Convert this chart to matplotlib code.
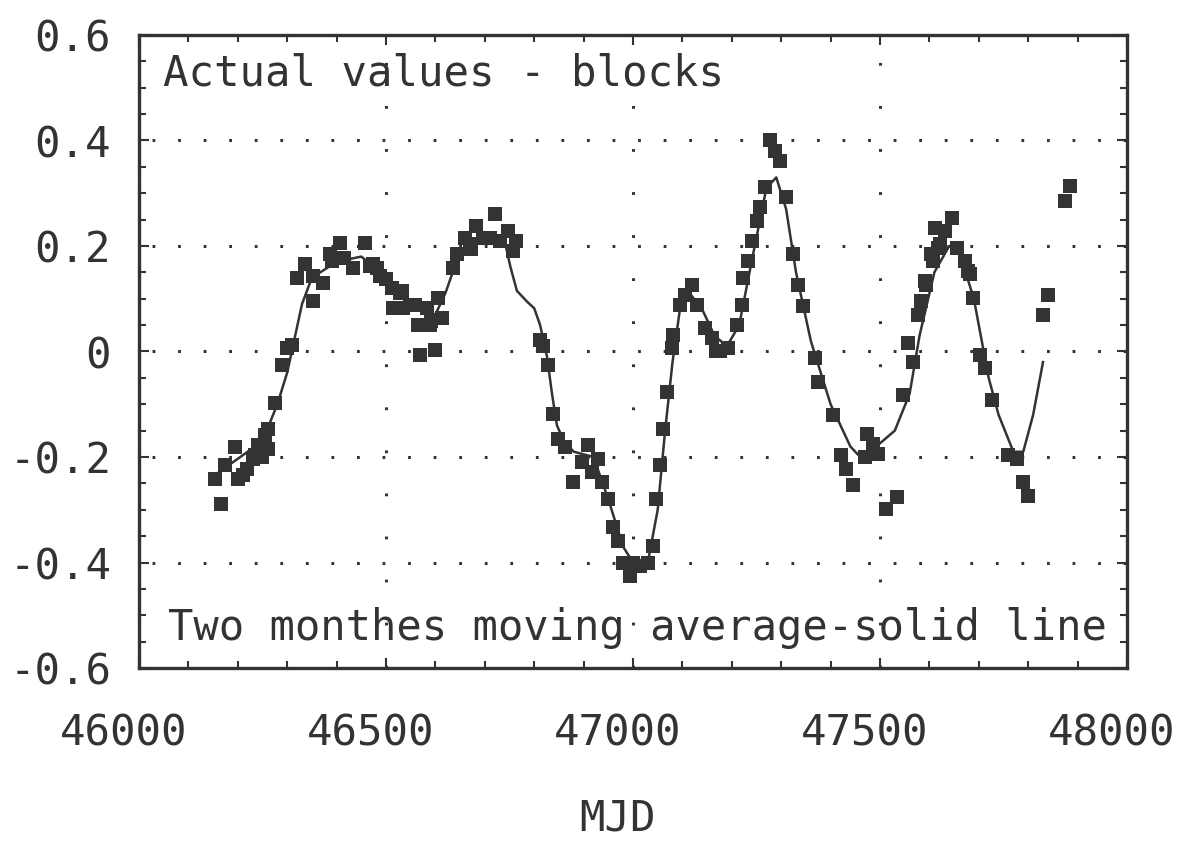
import matplotlib
matplotlib.use('Agg')
import matplotlib.pyplot as plt
import matplotlib.transforms as mtransforms
from matplotlib.ticker import MultipleLocator

plt.rcParams['font.family'] = ['DejaVu Sans Mono']
plt.rcParams['lines.scale_dashes'] = False

INK = '#333333'

# actual values (blocks)
mjd_blocks = [46154, 46167, 46174, 46194, 46201, 46211, 46218, 46231, 46235, 46241,
              46249, 46255, 46261, 46262, 46275, 46289, 46299, 46309, 46319, 46336,
              46352, 46353, 46373, 46387, 46390, 46407, 46414, 46434, 46457, 46468,
              46474, 46481, 46488, 46501, 46512, 46515, 46528, 46532, 46535, 46549,
              46559, 46565, 46569, 46582, 46589, 46592, 46599, 46606, 46613, 46636,
              46643, 46660, 46670, 46673, 46683, 46697, 46710, 46721, 46731, 46747,
              46758, 46764, 46812, 46818, 46828, 46839, 46849, 46862, 46879, 46896,
              46909, 46916, 46930, 46937, 46950, 46960, 46970, 46980, 46994, 47000,
              47014, 47031, 47041, 47046, 47055, 47061, 47068, 47078, 47081, 47095,
              47105, 47119, 47129, 47146, 47159, 47169, 47176, 47193, 47210, 47220,
              47223, 47233, 47240, 47250, 47257, 47267, 47277, 47287, 47297, 47310,
              47324, 47334, 47345, 47368, 47375, 47405, 47422, 47432, 47446, 47469,
              47473, 47486, 47496, 47513, 47534, 47547, 47557, 47567, 47577, 47584,
              47591, 47594, 47604, 47607, 47611, 47618, 47621, 47631, 47645, 47655,
              47672, 47678, 47682, 47689, 47702, 47712, 47726, 47760, 47777, 47790,
              47800, 47830, 47840, 47874, 47884]
val_blocks = [-0.241, -0.289, -0.216, -0.181, -0.241, -0.235, -0.222, -0.203, -0.197, -0.178,
              -0.200, -0.159, -0.147, -0.184, -0.098, -0.025, 0.006, 0.013, 0.140, 0.165,
              0.095, 0.143, 0.130, 0.185, 0.171, 0.206, 0.178, 0.159, 0.206, 0.162,
              0.166, 0.159, 0.143, 0.137, 0.120, 0.082, 0.110, 0.114, 0.082, 0.089,
              0.089, 0.051, -0.006, 0.082, 0.051, 0.057, 0.003, 0.102, 0.063, 0.159,
              0.184, 0.216, 0.204, 0.194, 0.238, 0.216, 0.216, 0.260, 0.210, 0.229,
              0.190, 0.210, 0.022, 0.010, -0.025, -0.118, -0.165, -0.181, -0.248, -0.210,
              -0.178, -0.229, -0.203, -0.248, -0.279, -0.333, -0.359, -0.400, -0.425, -0.400,
              -0.406, -0.400, -0.368, -0.279, -0.216, -0.146, -0.076, 0.006, 0.032, 0.089,
              0.108, 0.127, 0.089, 0.044, 0.025, 0.000, 0.000, 0.006, 0.051, 0.089,
              0.140, 0.171, 0.210, 0.248, 0.273, 0.311, 0.400, 0.381, 0.362, 0.292,
              0.184, 0.127, 0.086, -0.013, -0.057, -0.121, -0.197, -0.222, -0.254, -0.200,
              -0.156, -0.175, -0.194, -0.298, -0.276, -0.083, 0.016, -0.019, 0.070, 0.095,
              0.133, 0.127, 0.184, 0.171, 0.235, 0.197, 0.204, 0.229, 0.254, 0.197,
              0.171, 0.152, 0.146, 0.102, -0.006, -0.032, -0.092, -0.197, -0.203, -0.248,
              -0.273, 0.070, 0.108, 0.286, 0.314]

# two months moving average (solid line)
mjd_avg = [46160, 46250, 46280, 46300, 46330, 46350, 46400, 46450, 46500, 46550,
           46600, 46620, 46650, 46700, 46740, 46752, 46765, 46785, 46800, 46812,
           46826, 46836, 46846, 46860, 46880, 46920, 46950, 46980, 47000, 47030,
           47050, 47065, 47080, 47095, 47115, 47140, 47165, 47190, 47215, 47240,
           47270, 47290, 47310, 47330, 47360, 47400, 47440, 47460, 47480, 47530,
           47560, 47580, 47610, 47640, 47660, 47690, 47720, 47740, 47770, 47790,
           47810, 47830]
val_avg = [-0.23, -0.17, -0.10, -0.04, 0.09, 0.14, 0.17, 0.18, 0.14, 0.09,
           0.07, 0.11, 0.19, 0.22, 0.21, 0.16, 0.115, 0.095, 0.082, 0.05,
           -0.01, -0.08, -0.14, -0.17, -0.19, -0.20, -0.28, -0.37, -0.40, -0.40,
           -0.30, -0.15, -0.02, 0.08, 0.11, 0.08, 0.03, 0.01, 0.05, 0.17,
           0.31, 0.33, 0.27, 0.15, 0.02, -0.10, -0.18, -0.20, -0.19, -0.15,
           -0.08, 0.03, 0.15, 0.20, 0.19, 0.10, -0.05, -0.12, -0.19, -0.19,
           -0.12, -0.02]

xticks = [46000, 46500, 47000, 47500, 48000]
yticks = [-0.6, -0.4, -0.2, 0, 0.2, 0.4, 0.6]
ytick_labels = ['-0.6', '-0.4', '-0.2', '0', '0.2', '0.4', '0.6']

fig = plt.figure(figsize=(11.84, 8.46), dpi=100)
ax = fig.add_axes([139 / 1184, 1 - 668 / 846, (1127 - 139) / 1184, (668 - 35) / 846])

ax.set_xlim(46000, 48000)
ax.set_ylim(-0.6, 0.6)

# dotted grid like the old plotter
for gy in [-0.4, -0.2, 0.2, 0.4, 0]:
    ax.axhline(gy, color=INK, lw=2.2, linestyle=(9, (2.0, 16.4)), zorder=1)
for gx in [46500, 47000, 47500]:
    ax.axvline(gx, color=INK, lw=2.2, linestyle=(0, (2.0, 29.0)), zorder=1)

ax.plot(mjd_avg, val_avg, color=INK, lw=1.8, zorder=2)
ax.plot(mjd_blocks, val_blocks, linestyle='none', marker='s', markersize=9.8,
        color=INK, markeredgewidth=0, zorder=3)

ax.set_xticks(xticks)
ax.set_yticks(yticks)
ax.set_yticklabels(ytick_labels)
ax.xaxis.set_minor_locator(MultipleLocator(100))
ax.yaxis.set_minor_locator(MultipleLocator(0.05))
ax.tick_params(which='both', direction='in', top=True, right=True, color=INK,
               labelcolor=INK, labelsize=30.5)
ax.tick_params(which='major', length=7, width=1.5)
ax.tick_params(which='minor', length=5, width=1.5)
ax.tick_params(axis='x', which='major', pad=32)
ax.tick_params(axis='y', which='major', pad=20)

# labels sit a bit to the left of their ticks in the original
shift = mtransforms.ScaledTranslation(-0.15, 0, fig.dpi_scale_trans)
for lab in ax.get_xticklabels():
    lab.set_transform(lab.get_transform() + shift)

for sp in ax.spines.values():
    sp.set_linewidth(2.4)
    sp.set_color(INK)

ax.set_xlabel('MJD', fontsize=30.5, color=INK)
ax.xaxis.set_label_coords(0.484, -0.205)

ax.text(24 / 988, 1 - 50 / 633, 'Actual values - blocks', transform=ax.transAxes,
        fontsize=30.5, color=INK, va='baseline', ha='left')
ax.text(29 / 988, 28 / 633, 'Two monthes moving average-solid line', transform=ax.transAxes,
        fontsize=30.3, color=INK, va='baseline', ha='left')

fig.savefig('out.png', dpi=100, facecolor='white')
